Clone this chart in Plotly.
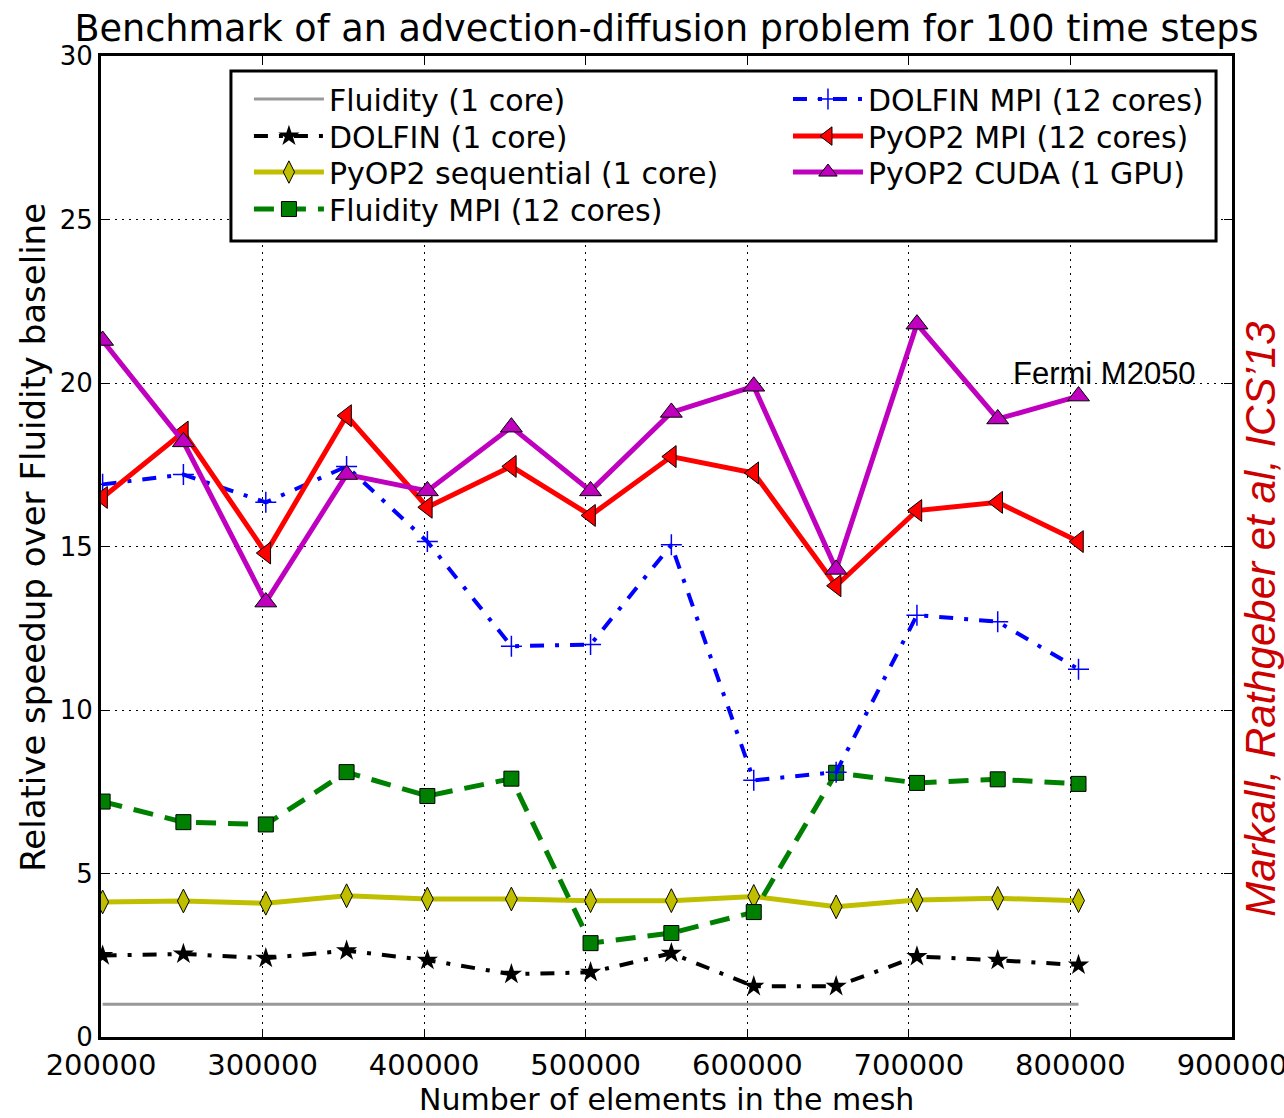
import plotly.graph_objects as go

# ---------------- data ----------------
mesh_elements = [201000, 251000, 302000, 352000, 402000, 454000, 503000,
                 553000, 604000, 655000, 705000, 755000, 805000]

fluidity_1core = [1.0, 1.0, 1.0, 1.0, 1.0, 1.0, 1.0, 1.0, 1.0, 1.0, 1.0, 1.0, 1.0]
dolfin_1core = [2.49, 2.54, 2.41, 2.64, 2.35, 1.92, 1.98, 2.56, 1.55, 1.55, 2.46, 2.35, 2.20]
pyop2_sequential = [4.13, 4.16, 4.09, 4.32, 4.22, 4.22, 4.17, 4.17, 4.30, 3.98, 4.19, 4.24, 4.17]
fluidity_mpi = [7.20, 6.57, 6.50, 8.10, 7.37, 7.90, 2.87, 3.18, 3.82, 8.08, 7.77, 7.88, 7.74]
dolfin_mpi = [16.90, 17.20, 16.35, 17.45, 15.15, 11.95, 12.00, 15.05, 7.85, 8.10, 12.90, 12.70, 11.25]
pyop2_mpi = [16.50, 18.50, 14.80, 19.00, 16.20, 17.45, 15.95, 17.75, 17.25, 13.80, 16.10, 16.35, 15.15]
pyop2_cuda = [21.30, 18.20, 13.30, 17.20, 16.70, 18.65, 16.70, 19.10, 19.90, 14.30, 21.80, 18.90, 19.60]

series_names = ["Fluidity (1 core)", "DOLFIN (1 core)", "PyOP2 sequential (1 core)",
                "Fluidity MPI (12 cores)", "DOLFIN MPI (12 cores)",
                "PyOP2 MPI (12 cores)", "PyOP2 CUDA (1 GPU)"]

x_tick_values = [200000, 300000, 400000, 500000, 600000, 700000, 800000, 900000]
y_tick_values = [0, 5, 10, 15, 20, 25, 30]

title_text = "Benchmark of an advection-diffusion problem for 100 time steps"
x_label = "Number of elements in the mesh"
y_label = "Relative speedup over Fluidity baseline"
annotation_gpu = "Fermi M2050"
annotation_credit = "Markall, Rathgeber et al, ICS\u201913"

# ---------------- figure ----------------
FONT = "DejaVu Sans"
ARIAL = "Liberation Sans, Arial"

# legend entry slots: (legend id, paper x, paper y) -> two columns as in the reference
legend_slots = [("legend", 0.1308, 0.9561), ("legend2", 0.1308, 0.9184),
                ("legend3", 0.1308, 0.8817), ("legend4", 0.1308, 0.8440),
                ("legend5", 0.6074, 0.9561), ("legend6", 0.6074, 0.9184),
                ("legend7", 0.6074, 0.8817)]

fig = go.Figure()

fig.add_trace(go.Scatter(
    x=mesh_elements, y=fluidity_1core, name=series_names[0], mode="lines",
    line=dict(color="#999999", width=3), legend=legend_slots[0][0]))

fig.add_trace(go.Scatter(
    x=mesh_elements, y=dolfin_1core, name=series_names[1], mode="lines+markers",
    line=dict(color="black", width=4, dash="14px,11px,4px,11px"),
    marker=dict(symbol="star", size=16, color="black", line=dict(width=0)),
    legend=legend_slots[1][0]))

fig.add_trace(go.Scatter(
    x=mesh_elements, y=pyop2_sequential, name=series_names[2], mode="lines+markers",
    line=dict(color="#bfbf00", width=5),
    marker=dict(symbol="diamond-tall", size=17, color="#bfbf00",
                line=dict(color="black", width=1)),
    legend=legend_slots[2][0]))

fig.add_trace(go.Scatter(
    x=mesh_elements, y=fluidity_mpi, name=series_names[3], mode="lines+markers",
    line=dict(color="#008000", width=5, dash="20px,12px"),
    marker=dict(symbol="square", size=15, color="#008000",
                line=dict(color="black", width=1)),
    legend=legend_slots[3][0]))

fig.add_trace(go.Scatter(
    x=mesh_elements, y=dolfin_mpi, name=series_names[4], mode="lines+markers",
    line=dict(color="#0000ff", width=4, dash="14px,11px,4px,11px"),
    marker=dict(symbol="cross-thin", size=15, color="#0000ff",
                line=dict(color="#0000ff", width=1.5)),
    legend=legend_slots[4][0]))

fig.add_trace(go.Scatter(
    x=mesh_elements, y=pyop2_mpi, name=series_names[5], mode="lines+markers",
    line=dict(color="#ff0000", width=5),
    marker=dict(symbol="triangle-left", size=19, color="#ff0000",
                line=dict(color="black", width=1)),
    legend=legend_slots[5][0]))

fig.add_trace(go.Scatter(
    x=mesh_elements, y=pyop2_cuda, name=series_names[6], mode="lines+markers",
    line=dict(color="#bf00bf", width=5),
    marker=dict(symbol="triangle-up", size=19, color="#bf00bf",
                line=dict(color="black", width=1)),
    legend=legend_slots[6][0]))

axis_common = dict(
    showgrid=True, gridcolor="black", gridwidth=1, griddash="2px,5px",
    showline=True, linecolor="black", linewidth=3, mirror="ticks",
    ticks="inside", ticklen=8, tickwidth=1, tickcolor="black",
    zeroline=False, ticklabeloverflow="allow", automargin=False,
)

legend_common = dict(
    xanchor="left", yanchor="middle", bgcolor="rgba(0,0,0,0)", borderwidth=0,
    font=dict(family=FONT, size=30, color="black"), itemwidth=70,
    tracegroupgap=0, orientation="v",
)

legend_layout = {lid: dict(x=lx, y=ly, **legend_common) for lid, lx, ly in legend_slots}

fig.update_layout(
    width=1284, height=1118,
    margin=dict(l=101, r=52, t=56, b=81, autoexpand=False),
    paper_bgcolor="white", plot_bgcolor="white",
    showlegend=True,
    title=dict(text=title_text, x=0.5, xref="paper", xanchor="center",
               y=0.975, yref="container", yanchor="middle", automargin=False,
               font=dict(family=FONT, size=36.6, color="black")),
    xaxis=dict(range=[200000, 900000], tickvals=x_tick_values,
               ticktext=[str(v) for v in x_tick_values],
               tickfont=dict(family=FONT, size=29, color="black"), **axis_common),
    yaxis=dict(range=[0, 30], tickvals=y_tick_values,
               ticktext=[str(v) for v in y_tick_values],
               tickfont=dict(family=FONT, size=26, color="black"), **axis_common),
    shapes=[dict(type="rect", xref="paper", yref="paper",
                 x0=0.1149, x1=0.9859, y0=0.8114, y1=0.9847,
                 line=dict(color="black", width=3), fillcolor="white",
                 layer="above")],
    annotations=[
        dict(text=y_label, xref="paper", yref="paper", x=-0.060, y=0.509,
             xanchor="center", yanchor="middle", textangle=-90, showarrow=False,
             font=dict(family=FONT, size=34, color="black")),
        dict(text=x_label, xref="paper", yref="paper", x=0.5, y=-0.064,
             xanchor="center", yanchor="middle", showarrow=False,
             font=dict(family=FONT, size=30, color="black")),
        dict(text=annotation_credit, xref="paper", yref="paper", x=1.0245, y=0.426,
             xanchor="center", yanchor="middle", textangle=-90, showarrow=False,
             font=dict(family=ARIAL, size=42, color="#cc0000", style="italic")),
        dict(text=annotation_gpu, xref="x", yref="y", x=763000, y=20.3,
             xanchor="left", yanchor="middle", showarrow=False,
             font=dict(family=ARIAL, size=31, color="black")),
    ],
    **legend_layout,
)

fig.write_html("out.html")
